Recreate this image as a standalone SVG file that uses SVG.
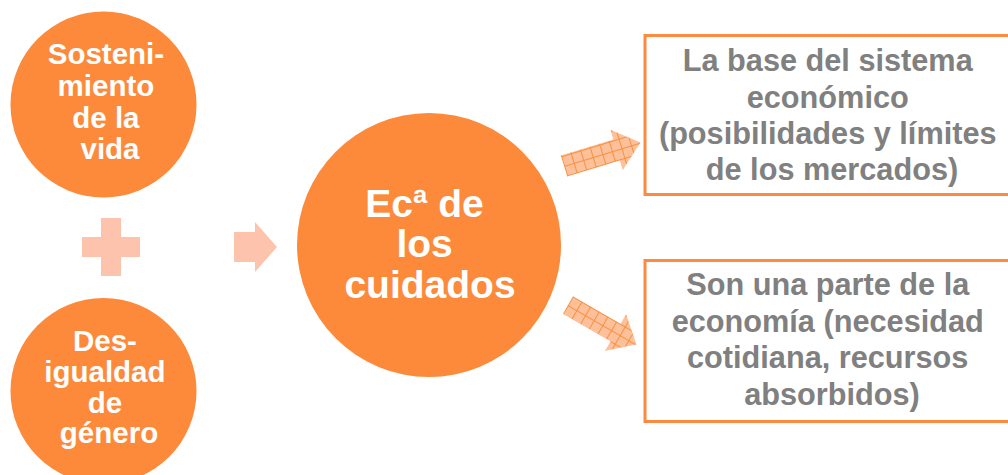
<svg xmlns="http://www.w3.org/2000/svg" width="1008" height="475" viewBox="0 0 1008 475">
  <defs>
    <pattern id="hatch" patternUnits="userSpaceOnUse" width="10" height="10">
      <rect width="10" height="10" fill="#FDC09A"/>
      <path d="M0 0.5H10M0.5 0V10" stroke="#F7913F" stroke-width="1" fill="none"/>
    </pattern>
  </defs>
  <style>
    .circ { fill: #FD8A3B; }
    .ctext { font-family: "Liberation Sans", Arial, sans-serif; font-weight: bold; fill: #FFFFFF; text-anchor: middle; }
    .box { fill: #FFFFFF; stroke: #FD8A3F; stroke-width: 3; }
    .btext { font-family: "Liberation Sans", Arial, sans-serif; font-weight: bold; fill: #808080; text-anchor: middle; font-size: 30.7px; }
    .soft { fill: #FEC3AC; }
    .hatch { fill: url(#hatch); }
  </style>
  <rect width="1008" height="475" fill="#FFFFFF"/>

  <g id="node-sostenimiento">
    <circle class="circ" cx="103.5" cy="104.5" r="93"/>
    <text class="ctext" font-size="29.5" x="110">
      <tspan x="110" y="64">Sosteni-</tspan>
      <tspan x="110" y="96">miento</tspan>
      <tspan x="110" y="128">de la</tspan>
      <tspan x="110" y="159">vida</tspan>
    </text>
  </g>

  <g id="node-plus">
    <rect class="soft" x="101" y="218" width="20" height="58"/>
    <rect class="soft" x="82" y="237" width="58" height="20"/>
  </g>

  <g id="node-desigualdad">
    <circle class="circ" cx="103.5" cy="391" r="93"/>
    <text class="ctext" font-size="29.5" x="109">
      <tspan x="109" y="351">Des-</tspan>
      <tspan x="109" y="382">igualdad</tspan>
      <tspan x="109" y="413">de</tspan>
      <tspan x="109" y="443">género</tspan>
    </text>
  </g>

  <g id="node-cuidados">
    <circle class="circ" cx="429" cy="245" r="132"/>
    <text class="ctext" font-size="39" x="430">
      <tspan x="430" y="217">Ecª de</tspan>
      <tspan x="430" y="257">los</tspan>
      <tspan x="430" y="298">cuidados</tspan>
    </text>
  </g>

  <g id="node-base">
    <rect class="box" x="645" y="35.5" width="380" height="159"/>
    <text class="btext">
      <tspan x="832" y="71">La base del sistema</tspan>
      <tspan x="832" y="108">económico</tspan>
      <tspan x="832" y="144">(posibilidades y límites</tspan>
      <tspan x="832" y="180">de los mercados)</tspan>
    </text>
  </g>

  <g id="node-parte">
    <rect class="box" x="645" y="260.5" width="380" height="161"/>
    <text class="btext">
      <tspan x="832" y="295">Son una parte de la</tspan>
      <tspan x="832" y="332">economía (necesidad</tspan>
      <tspan x="832" y="368">cotidiana, recursos</tspan>
      <tspan x="832" y="405">absorbidos)</tspan>
    </text>
  </g>

  <g id="connectors">
    <polygon class="soft" points="234,232 255,232 255,222 277,247 255,272 255,262 234,262"/>
    <polygon class="hatch" transform="translate(564,166) rotate(-17)" points="0,-11 55,-11 55,-21 80,0 55,21 55,11 0,11"/>
    <polygon class="hatch" transform="translate(568,305) rotate(30)" points="0,-10 55,-10 55,-21 79,0 55,21 55,10 0,10"/>
  </g>
</svg>
